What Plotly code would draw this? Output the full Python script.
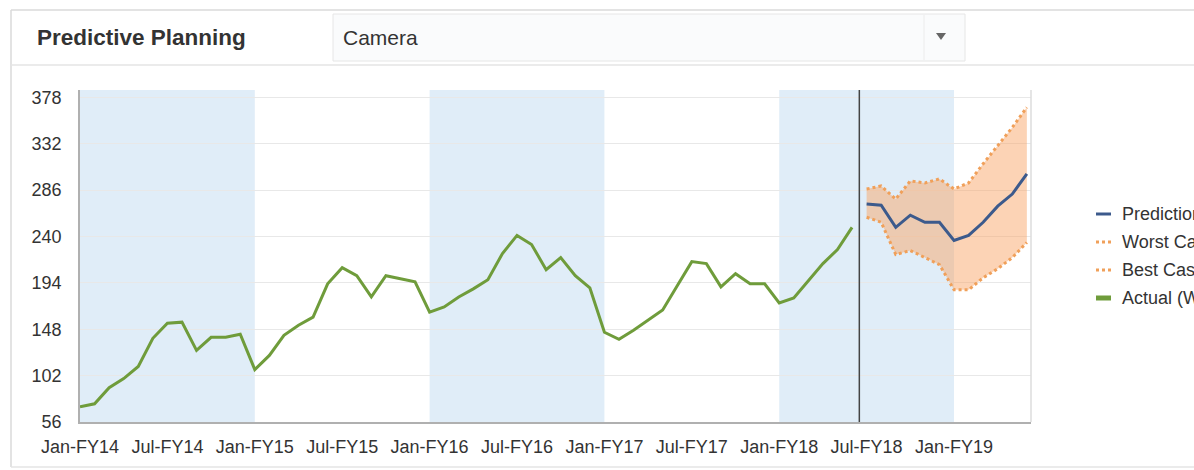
import plotly.graph_objects as go

# ---------------- data ----------------
month_names = ["Jan", "Feb", "Mar", "Apr", "May", "Jun",
               "Jul", "Aug", "Sep", "Oct", "Nov", "Dec"]
categories = [f"{month_names[i % 12]}-FY{14 + i // 12}" for i in range(66)]

actual = [71, 74, 90, 99, 111, 139, 154, 155, 127, 140, 140, 143,
          108, 122, 142, 152, 160, 193, 209, 201, 180, 201, 198, 195,
          165, 170, 180, 188, 197, 223, 241, 232, 207, 219, 201, 189,
          145, 138, 147, 157, 167, 191, 215, 213, 190, 203, 193, 193,
          174, 179, 196, 213, 227, 249]
prediction = [272, 271, 249, 261, 254, 254, 236, 241, 254, 270, 282, 302]
best_case = [287, 290, 277, 295, 293, 297, 287, 293, 312, 330, 348, 368]
worst_case = [259, 254, 222, 226, 219, 212, 187, 187, 199, 208, 219, 234]

tick_labels = ["Jan-FY14", "Jul-FY14", "Jan-FY15", "Jul-FY15", "Jan-FY16",
               "Jul-FY16", "Jan-FY17", "Jul-FY17", "Jan-FY18", "Jul-FY18",
               "Jan-FY19"]
y_ticks = [56, 102, 148, 194, 240, 286, 332, 378]
shaded_years = [("Jan-FY14", "Jan-FY15"), ("Jan-FY16", "Jan-FY17"),
                ("Jan-FY18", "Jan-FY19")]
series_names = ["Prediction", "Worst Case", "Best Case", "Actual (Weekly)"]
header_title = "Predictive Planning"
selector_value = "Camera"

# ---------------- layout geometry ----------------
W, H = 1194, 470
L, R, T, B = 80, 163, 90, 48
PW, PH = W - L - R, H - T - B


def px(x):
    return (x - L) / PW


def py(y):
    return (H - B - y) / PH


idx = {c: i for i, c in enumerate(categories)}
x_actual = [idx[c] for c in categories[:len(actual)]]
x_fc = [idx[c] for c in categories[len(actual):len(actual) + len(prediction)]]

GREEN = "#6f9c3b"
BLUE = "#3c5a8c"
ORANGE = "#f0a05a"
FILL = "rgba(248,164,100,0.48)"
BAND = "rgb(224,237,248)"
TXT = "#333333"
FONT = "Liberation Sans, Arial, sans-serif"

fig = go.Figure()

# forecast band fill
fig.add_trace(go.Scatter(x=x_fc, y=best_case, mode="lines",
                         line=dict(width=0, color=ORANGE), showlegend=False,
                         hoverinfo="skip"))
fig.add_trace(go.Scatter(x=x_fc, y=worst_case, mode="lines", fill="tonexty",
                         fillcolor=FILL, line=dict(width=0, color=ORANGE),
                         showlegend=False, hoverinfo="skip"))
# dotted bounds
fig.add_trace(go.Scatter(x=x_fc, y=worst_case, mode="lines", name=series_names[1],
                         line=dict(width=3, color=ORANGE, dash="3px,3px"),
                         showlegend=False))
fig.add_trace(go.Scatter(x=x_fc, y=best_case, mode="lines", name=series_names[2],
                         line=dict(width=3, color=ORANGE, dash="3px,3px"),
                         showlegend=False))
fig.add_trace(go.Scatter(x=x_fc, y=prediction, mode="lines", name=series_names[0],
                         line=dict(width=3, color=BLUE), showlegend=False))
fig.add_trace(go.Scatter(x=x_actual, y=actual, mode="lines", name=series_names[3],
                         line=dict(width=3, color=GREEN), showlegend=False))

shapes = []
# alternating year shading
for a, b in shaded_years:
    shapes.append(dict(type="rect", xref="x", yref="paper", x0=idx[a], x1=idx[b],
                       y0=0, y1=1, fillcolor=BAND, line=dict(width=0),
                       layer="below"))
# forecast start divider
split = (x_actual[-1] + x_fc[0]) / 2
shapes.append(dict(type="line", xref="x", yref="paper", x0=split, x1=split,
                   y0=0, y1=1, line=dict(color="#444444", width=1.5)))
# right border of plot
shapes.append(dict(type="line", xref="paper", yref="paper", x0=1, x1=1,
                   y0=0, y1=1, line=dict(color="#dcdcdc", width=1.5)))

# panel frame & header
frame = "#dadada"
shapes += [
    dict(type="line", xref="paper", yref="paper", x0=px(11), x1=px(1200),
         y0=py(10), y1=py(10), line=dict(color=frame, width=1.5)),
    dict(type="line", xref="paper", yref="paper", x0=px(11), x1=px(11),
         y0=py(10), y1=py(467), line=dict(color=frame, width=1.5)),
    dict(type="line", xref="paper", yref="paper", x0=px(11), x1=px(1200),
         y0=py(65), y1=py(65), line=dict(color="#e4e4e4", width=1.5)),
    dict(type="line", xref="paper", yref="paper", x0=px(11), x1=px(1200),
         y0=py(467), y1=py(467), line=dict(color="#e4e4e4", width=1.5)),
    dict(type="rect", xref="paper", yref="paper", x0=px(333), x1=px(965),
         y0=py(61), y1=py(14), fillcolor="#fafbfc",
         line=dict(color="#e6e6e6", width=1)),
    dict(type="line", xref="paper", yref="paper", x0=px(924), x1=px(924),
         y0=py(60), y1=py(15), line=dict(color="#ececec", width=1)),
    dict(type="path", xref="paper", yref="paper",
         path=f"M {px(936)} {py(33)} L {px(946)} {py(33)} L {px(941)} {py(40)} Z",
         fillcolor="#666666", line=dict(width=0)),
]

annotations = [
    dict(xref="paper", yref="paper", x=px(35), y=py(37), xanchor="left",
         yanchor="middle", text=f"<b>{header_title}</b>", showarrow=False,
         font=dict(size=22.5, color=TXT, family=FONT)),
    dict(xref="paper", yref="paper", x=px(341), y=py(37), xanchor="left",
         yanchor="middle", text=selector_value, showarrow=False,
         font=dict(size=21, color=TXT, family=FONT)),
]

# manual legend
legend_rows = [214, 242, 270, 298]
legend_styles = [dict(color=BLUE, width=3),
                 dict(color=ORANGE, width=3, dash="3px,3px"),
                 dict(color=ORANGE, width=3, dash="3px,3px"),
                 dict(color=GREEN, width=5)]
for name, yrow, st in zip(series_names, legend_rows, legend_styles):
    shapes.append(dict(type="line", xref="paper", yref="paper", x0=px(1096),
                       x1=px(1111), y0=py(yrow), y1=py(yrow), line=st))
    annotations.append(dict(xref="paper", yref="paper", x=px(1120), y=py(yrow),
                            xanchor="left", yanchor="middle", text=name,
                            showarrow=False,
                            font=dict(size=18, color=TXT, family=FONT)))

fig.update_layout(
    width=W, height=H,
    margin=dict(l=L, r=R, t=T, b=B, autoexpand=False),
    paper_bgcolor="white", plot_bgcolor="white",
    font=dict(family=FONT, color=TXT, size=18),
    showlegend=False,
    shapes=shapes, annotations=annotations,
    xaxis=dict(range=[0, PW / 14.567], tickmode="array",
               tickvals=[idx[t] for t in tick_labels], ticktext=tick_labels,
               showgrid=False, zeroline=False, showline=True,
               linecolor="#b0b0b0", linewidth=1.5, ticks="",
               ticklabelstandoff=8, tickfont=dict(size=18, color=TXT)),
    yaxis=dict(range=[56, 56 + PH / 1.0087], tickmode="array", tickvals=y_ticks,
               showgrid=True, gridcolor="#e8e8e8", gridwidth=1, zeroline=False,
               showline=True, linecolor="#b0b0b0", linewidth=1.5, ticks="",
               ticklabelstandoff=13, tickfont=dict(size=18, color=TXT)),
)

fig.write_html("out.html", config={"displayModeBar": False},
               post_script="document.body.style.margin='0';document.body.style.overflow='hidden';")
